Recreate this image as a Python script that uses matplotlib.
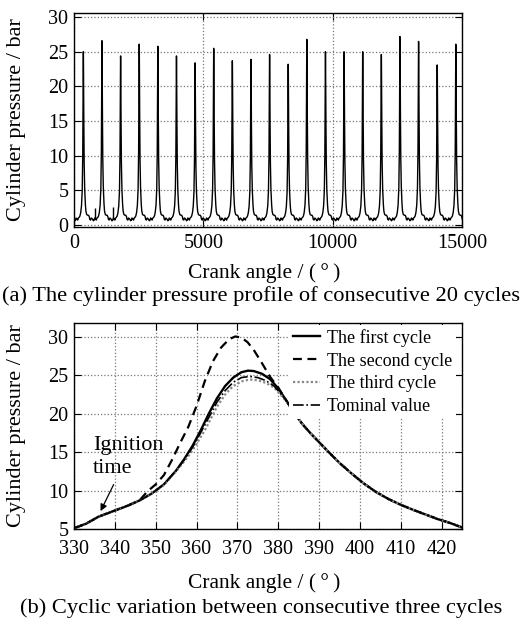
"""Cylinder pressure: 20 consecutive cycles (a) and cycle-to-cycle variation (b)."""

import matplotlib
matplotlib.use("Agg")
import matplotlib.pyplot as plt
import numpy as np

plt.rcParams["font.family"] = ["Liberation Serif", "DejaVu Serif"]

# --- (a) consecutive cycles ---
cycle_len = 720
first_peak = 360
# peak pressure of each cycle (bar)
peak_pressure = [25.0, 26.6, 24.4, 26.1, 25.8, 24.4, 23.4, 25.5, 23.7, 23.9, 24.6,
                 23.2, 26.8, 25.0, 25.0, 25.0, 24.6, 27.2, 26.5, 23.1, 26.1]
# one cycle profile around the peak (offset in deg, pressure in bar, peak 25.6)
profile_offset = [-360, -330, -300, -280, -250, -220, -190, -160, -130, -100, -70,
                  -42, -36, -32, -27, -22, -17, -13, -10, -7, -4, -2, 0, 4, 8, 13,
                  19, 28, 33, 38, 43, 48, 53, 80, 100, 130, 170, 200, 230, 250, 280,
                  310, 340, 359]
profile_pressure = [0.8, 0.6, 0.7, 1.0, 0.9, 0.7, 1.0, 1.1, 1.3, 1.8, 2.8,
                    5.1, 6.6, 7.5, 8.7, 10.3, 12.9, 15.9, 18.4, 21.5, 24.3, 25.2,
                    25.6, 25.4, 23.4, 19.7, 15.8, 10.8, 9.2, 8.2, 7.2, 6.3, 5.3,
                    3.0, 2.0, 1.5, 1.4, 1.4, 1.2, 0.8, 0.7, 1.0, 0.9, 0.8]
profile_peak = 25.6
spike_angle = [815, 1525]
spike_pressure = [2.4, 2.6]

# --- (b) three cycles ---
rise_angle = [330, 333, 336, 338, 340, 343, 346]
rise_p = [5.1, 5.7, 6.6, 7.0, 7.4, 8.0, 8.7]

tail_angle = [384, 386, 388, 390, 392, 395, 398, 401, 404, 407, 410, 413, 416, 419,
              422, 425]
tail_p = [20.0, 18.6, 17.4, 16.3, 15.2, 13.6, 12.2, 10.9, 9.8, 8.9, 8.15, 7.5, 6.9,
          6.3, 5.8, 5.2]

first_angle = rise_angle + [349, 352, 355, 357, 359, 361, 363, 365, 367, 369, 371,
                            372.6, 374, 376, 378, 380, 382] + tail_angle
first_p = rise_p + [9.6, 10.8, 12.6, 14.1, 15.8, 17.8, 20.0, 22.0, 23.6, 24.7, 25.4,
                    25.6, 25.55, 25.2, 24.5, 23.3, 21.7] + tail_p

second_angle = rise_angle + [348, 350, 352, 354, 356, 358, 360, 362, 364, 366, 368,
                             369.5, 371, 372.5, 374, 376, 378, 380, 382] + tail_angle
second_p = rise_p + [9.9, 10.8, 12.0, 14.0, 16.2, 18.3, 21.0, 24.2, 26.8, 28.6, 29.7,
                     30.05, 29.9, 29.3, 28.3, 26.6, 24.8, 23.4, 21.7] + tail_p

third_angle = rise_angle + [349, 352, 355, 357, 359, 362, 365, 367, 369, 371, 373,
                            375, 377, 379, 382] + tail_angle
third_p = rise_p + [9.6, 10.7, 12.5, 13.8, 15.2, 17.8, 20.9, 22.5, 23.6, 24.2, 24.45,
                    24.35, 24.0, 23.4, 21.6] + tail_p

nominal_angle = rise_angle + [349, 352, 355, 357, 359, 361, 363, 365, 367, 369, 371,
                              373, 375, 377, 379, 382] + tail_angle
nominal_p = rise_p + [9.6, 10.8, 12.6, 14.0, 15.6, 17.5, 19.5, 21.5, 23.0, 24.1, 24.7,
                      24.85, 24.7, 24.3, 23.6, 21.7] + tail_p

fig = plt.figure(figsize=(5.23, 6.19), dpi=100)
W, H = 523, 619


def place(left, top, right, bottom):
    return fig.add_axes([left / W, 1 - bottom / H, (right - left) / W, (bottom - top) / H])


def style(ax, xpad):
    ax.tick_params(direction="in", top=True, right=True, length=5, width=0.8,
                   labelsize=14.5, pad=4)
    ax.tick_params(axis="x", pad=xpad)
    ax.grid(True, linestyle=":", color="#777777", linewidth=0.9)
    for s in ax.spines.values():
        s.set_linewidth(1.0)


# (a)
ax1 = place(74, 13, 462, 227)
off = np.array(profile_offset, dtype=float)
tmpl = np.array(profile_pressure)
xs, ys = [], []
for k, pk in enumerate(peak_pressure):
    scale = (pk - 1.5) / (profile_peak - 1.5)
    xs.append(first_peak + k * cycle_len + off)
    ys.append(np.where(tmpl > 1.5, 1.5 + (tmpl - 1.5) * scale, tmpl))
ax1.plot(np.concatenate(xs), np.concatenate(ys), color="black", lw=1.0)
ax1.vlines(spike_angle, 1.0, spike_pressure, color="black", lw=1.0)
ax1.set_xlim(0, 15000)
ax1.set_ylim(-0.3, 30.6)
ax1.set_xticks([0, 5000, 10000, 15000])
ax1.set_yticks(range(0, 31, 5))
style(ax1, 5)
ax1.set_ylabel("Cylinder pressure / bar", fontsize=16, va="center")
ax1.yaxis.set_label_coords(-0.147, 0.5)
ax1.set_xlabel("Crank angle / (\u2009°\u2009)", fontsize=15.5, va="center")
ax1.xaxis.set_label_coords(0.49, -0.215)
fig.text(0.5, 1 - 296 / H, "(a) The cylinder pressure profile of consecutive 20 cycles",
         ha="center", va="center", fontsize=16.2)

# (b)
ax2 = place(74, 323, 462, 529)
ax2.plot(first_angle, first_p, color="black", lw=1.7, ls="-", label="The first cycle")
ax2.plot(second_angle, second_p, color="black", lw=1.6, ls=(0, (4, 2.5)), label="The second cycle")
ax2.plot(third_angle, third_p, color="#888888", lw=1.6, ls=(0, (1, 1)), label="The third cycle")
ax2.plot(nominal_angle, nominal_p, color="black", lw=1.2, ls="-.", label="Tominal value")
ax2.set_xlim(330, 425)
ax2.set_ylim(5, 31.8)
ax2.set_xticks(range(330, 421, 10))
ax2.set_yticks(range(5, 31, 5))
style(ax2, 8)
ax2.set_ylabel("Cylinder pressure / bar", fontsize=16, va="center")
ax2.yaxis.set_label_coords(-0.147, 0.5)
ax2.set_xlabel("Crank angle / (\u2009°\u2009)", fontsize=15.5, va="center")
ax2.xaxis.set_label_coords(0.49, -0.262)
leg = ax2.legend(loc="upper right", bbox_to_anchor=(0.985, 0.99), fontsize=13,
                 frameon=True, fancybox=False, handlelength=1.5, handletextpad=0.4,
                 labelspacing=0.33, borderpad=0.2, borderaxespad=0.0)
leg.get_frame().set_edgecolor("none")
leg.get_frame().set_facecolor("white")
leg.get_frame().set_alpha(1.0)
ax2.annotate("", xy=(336.2, 7.0), xytext=(340, 11.1),
             arrowprops=dict(arrowstyle="-|>", color="black", lw=0.9,
                             mutation_scale=10))
ax2.text(334.6, 15.9, "Ignition", fontsize=16, ha="left", va="center")
ax2.text(334.6, 12.9, "time", fontsize=16, ha="left", va="center")
fig.text(0.5, 1 - 608 / H, "(b) Cyclic variation between consecutive three cycles",
         ha="center", va="center", fontsize=16.2)

fig.savefig("out.png", dpi=100)
